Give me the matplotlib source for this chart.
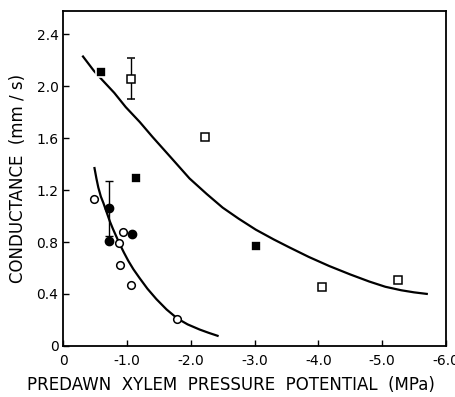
import matplotlib; matplotlib.use("Agg")
import matplotlib.pyplot as plt

# ---- data (x = predawn xylem pressure potential, MPa) ----
fsq_x=[-0.59,-1.14,-3.03]; fsq_y=[2.11,1.29,0.77]              # filled squares
osq_x=[-1.07,-2.23,-4.05,-5.25]; osq_y=[2.06,1.61,0.455,0.51]  # open squares
osq_err=[0.155,0,0,0]
fci_x=[-0.72,-0.72,-1.08]; fci_y=[1.06,0.81,0.86]              # filled circles
fci_err=[0.21,0,0]
oci_x=[-0.48,-0.94,-0.88,-0.89,-1.06,-1.78]; oci_y=[1.13,0.88,0.79,0.62,0.47,0.21]  # open circles
# fitted curves
up_x=[-0.31,-0.48,-0.61,-0.80,-0.98,-1.20,-1.40,-1.70,-1.98,-2.25,-2.50,-2.75,-3.02,-3.30,
      -3.54,-3.85,-4.17,-4.50,-4.80,-5.05,-5.30,-5.50,-5.70]
up_y=[2.23,2.12,2.05,1.95,1.84,1.725,1.61,1.445,1.29,1.17,1.065,0.98,0.895,0.82,
      0.76,0.685,0.615,0.55,0.495,0.455,0.428,0.412,0.40]
lo_x=[-0.49,-0.52,-0.55,-0.59,-0.63,-0.68,-0.73,-0.78,-0.88,-0.95,-1.02,-1.10,-1.20,-1.32,
      -1.46,-1.62,-1.79,-1.95,-2.14,-2.28,-2.42]
lo_y=[1.37,1.29,1.22,1.15,1.10,1.03,0.96,0.90,0.79,0.72,0.655,0.59,0.52,0.44,
      0.36,0.28,0.21,0.165,0.125,0.10,0.077]
xt=[0,-1,-2,-3,-4,-5,-6]; xtl=["0","-1.0","-2.0","-3.0","-4.0","-5.0","-6.0"]
yt=[0,0.4,0.8,1.2,1.6,2.0,2.4]; ytl=["0","0.4","0.8","1.2","1.6","2.0","2.4"]

plt.rcParams.update({"font.family":"DejaVu Sans","font.size":10})
fig=plt.figure(figsize=(4.55,3.97),dpi=100)
ax=fig.add_axes([0.139,0.129,0.841,0.843])

ax.plot(up_x,up_y,color="k",lw=1.6,zorder=2)
ax.plot(lo_x,lo_y,color="k",lw=1.6,zorder=2)

ms=5.5
ax.errorbar(osq_x,osq_y,yerr=osq_err,fmt="s",ms=ms,mfc="white",mec="k",mew=1.1,ecolor="k",elinewidth=1,capsize=3,capthick=1,zorder=3)
ax.errorbar(fci_x,fci_y,yerr=fci_err,fmt="o",ms=ms+0.5,mfc="k",mec="k",ecolor="k",elinewidth=1,capsize=3,capthick=1,zorder=3)
ax.plot(fsq_x,fsq_y,"s",ms=ms+1.8,mfc="k",mec="white",mew=1.2,zorder=3)
ax.plot(oci_x,oci_y,"o",ms=ms,mfc="white",mec="k",mew=1.1,zorder=3)

ax.set_xlim(0,-6); ax.set_ylim(0,2.58)
ax.set_xticks(xt); ax.set_xticklabels(xtl)
ax.set_yticks(yt); ax.set_yticklabels(ytl)
ax.tick_params(direction="in",length=4,width=1,labelsize=10)
ax.tick_params(axis="x",pad=6)
for s in ax.spines.values(): s.set_linewidth(1.3)
ax.set_xlabel("PREDAWN  XYLEM  PRESSURE  POTENTIAL  (MPa)",fontsize=12)
ax.xaxis.set_label_coords(0.438,-0.09)
ax.set_ylabel("CONDUCTANCE  (mm / s)",fontsize=12,labelpad=7)

fig.savefig("out.png",dpi=100)
